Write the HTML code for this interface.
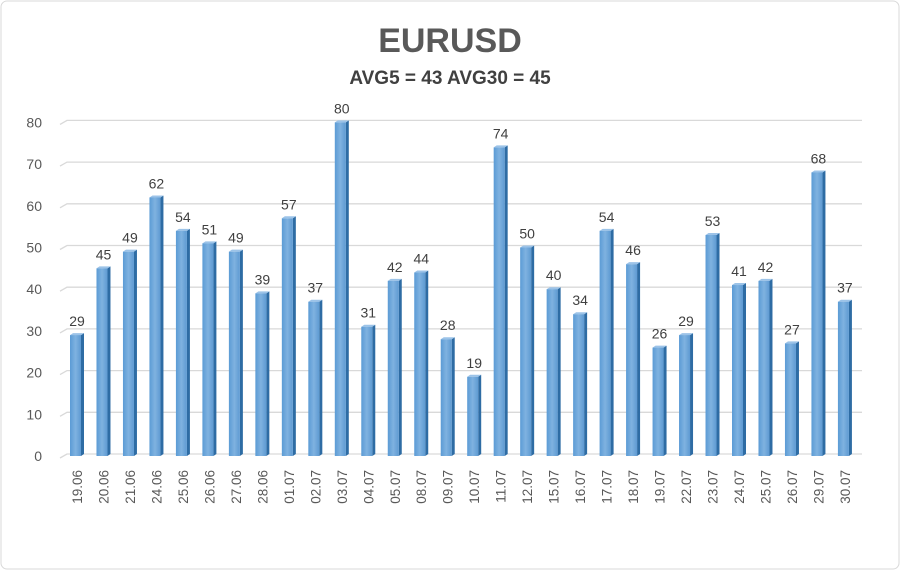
<!DOCTYPE html>
<html><head><meta charset="utf-8"><style>
body{margin:0;background:#fff}
svg{display:block;font-family:"Liberation Sans",sans-serif}
</style></head><body>
<svg width="900" height="570" viewBox="0 0 900 570">
<defs>
<linearGradient id="fg" x1="0" x2="1" y1="0" y2="0"><stop offset="0" stop-color="#5b9bd5"/><stop offset="0.5" stop-color="#7fb2e0"/><stop offset="1" stop-color="#5e9ad2"/></linearGradient>
</defs>
<rect x="1" y="1" width="898" height="568" rx="6" fill="#fff" stroke="#d9d9d9"/>
<text x="450" y="52" text-anchor="middle" font-size="34" font-weight="bold" fill="#595959">EURUSD</text>
<text x="450" y="84" text-anchor="middle" font-size="19" font-weight="bold" fill="#404040">AVG5 = 43 AVG30 = 45</text>
<g id="grid"></g><g id="bars"></g>
</svg>
<script>
const categories=["19.06","20.06","21.06","24.06","25.06","26.06","27.06","28.06","01.07","02.07","03.07","04.07","05.07","08.07","09.07","10.07","11.07","12.07","15.07","16.07","17.07","18.07","19.07","22.07","23.07","24.07","25.07","26.07","29.07","30.07"];
const values=[29,45,49,62,54,51,49,39,57,37,80,31,42,44,28,19,74,50,40,34,54,46,26,29,53,41,42,27,68,37];
const ticks=[0,10,20,30,40,50,60,70,80];
const NS="http://www.w3.org/2000/svg";
const y0=456,k=4.17,x0=70,step=26.48,bw=11,sd=3;
const yS=v=>y0-v*k, xS=i=>x0+i*step;
const g=document.getElementById('grid'),b=document.getElementById('bars');
function mk(t,a,p){const e=document.createElementNS(NS,t);for(const n in a)e.setAttribute(n,a[n]);p.appendChild(e);return e;}
ticks.forEach(t=>{const y=yS(t);
 const l=mk('polyline',{points:`60,${y+2} 67,${y-2} 862,${y-2}`,fill:'none',stroke:'#d9d9d9','stroke-width':1.3},g);
 
 
 const tx=mk('text',{x:42,y:y+5,'text-anchor':'end','font-size':14,fill:'#595959'},g);tx.textContent=t;
 
 
});
values.forEach((v,i)=>{const x=xS(i),y=yS(v);
 const grp=mk('g',{},b);
 
 
 mk('polygon',{points:`${x+bw},${y} ${x+bw+sd},${y-2} ${x+bw+sd},${y0-2} ${x+bw},${y0}`,fill:'#2e6ca4'},grp);
 mk('polygon',{points:`${x},${y} ${x+sd},${y-2} ${x+bw+sd},${y-2} ${x+bw},${y}`,fill:'#9cc3e8'},grp);
 mk('rect',{x:x,y:y,width:bw,height:y0-y,fill:'url(#fg)'},grp);
 const lb=mk('text',{x:x+7,y:y-9,'text-anchor':'middle','font-size':14,fill:'#404040'},b);lb.textContent=v;
 
 
 const cx=x+7,cy=470;
 const cl=mk('text',{x:cx,y:cy,transform:`rotate(-90 ${cx} ${cy}) translate(0 5)`,'text-anchor':'end','font-size':13.5,fill:'#595959'},b);cl.textContent=categories[i];
 
 
});
</script>
</body></html>
